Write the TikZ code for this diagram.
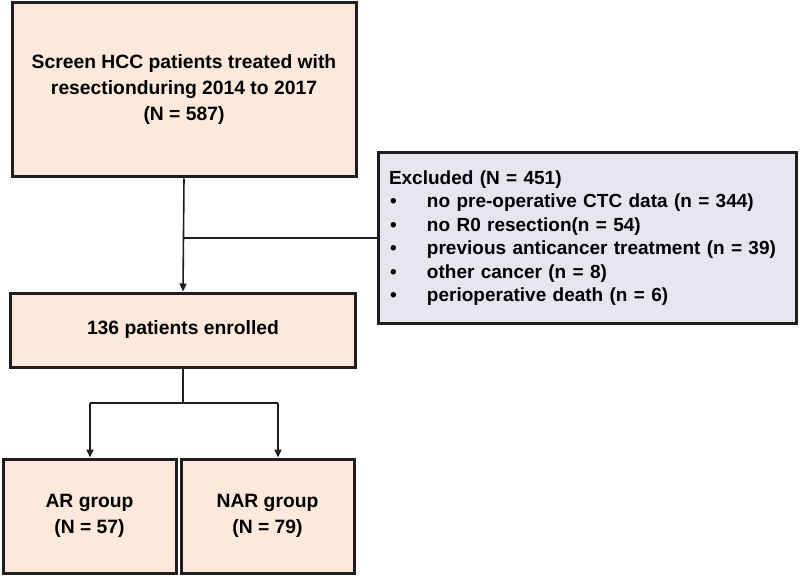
\documentclass[tikz,border=0pt]{standalone}
\usepackage{fontspec}
\setmainfont{Liberation Sans}
\usetikzlibrary{arrows.meta}
\definecolor{peach}{HTML}{FCE9DC}
\definecolor{lav}{HTML}{E9E5EE}
\definecolor{edge}{HTML}{1E1E1E}
\tikzset{
  box/.style={draw=edge, line width=3pt, fill=peach, align=center, inner sep=0pt, font=\bfseries\fontsize{19.3}{26}\selectfont},
  exbox/.style={draw=edge, line width=3pt, fill=lav, align=left, inner sep=0pt, font=\bfseries\fontsize{19}{23.5}\selectfont},
  conn/.style={draw=edge, line width=1.6pt},
  arr/.style={conn, -{Triangle[width=7pt,length=8pt]}}
}
\newcommand{\bul}{\makebox[38pt][l]{\hspace*{1pt}\textbullet}}
\begin{document}
\begin{tikzpicture}[x=1pt,y=-1pt]
\useasboundingbox (0,0) rectangle (800,577);
\node[box, minimum width=344pt, minimum height=174pt] (top) at (184,90) {Screen HCC patients treated with\\resectionduring 2014 to 2017\\(N = 587)};
\node[exbox, minimum width=418pt, minimum height=170pt, text width=396pt] (ex) at (587,238) {Excluded (N = 451)\\
\bul no pre-operative CTC data (n = 344)\\
\bul no R0 resection(n = 54)\\
\bul previous anticancer treatment (n = 39)\\
\bul other cancer (n = 8)\\
\bul perioperative death (n = 6)};
\node[box, minimum width=345pt, minimum height=74pt] (enr) at (183,330) {136 patients enrolled};
\node[box, minimum width=173pt, minimum height=114pt] (ar) at (89.5,516) {AR group\\(N = 57)};
\node[box, minimum width=173pt, minimum height=114pt] (nar) at (267.5,516) {NAR group\\(N = 79)};
\coordinate (sp) at (183,403);
\coordinate (sl) at (90,403);
\coordinate (sr) at (278,403);
\draw[arr] (top.south) -- (enr.north);
\draw[conn] (top.south |- ex.west) -- (ex.west);
\draw[conn] (enr.south) -- (sp);
\draw[conn] (sl) -- (sr);
\draw[arr] (sl) -- (sl |- ar.north);
\draw[arr] (sr) -- (sr |- nar.north);
\end{tikzpicture}
\end{document}
